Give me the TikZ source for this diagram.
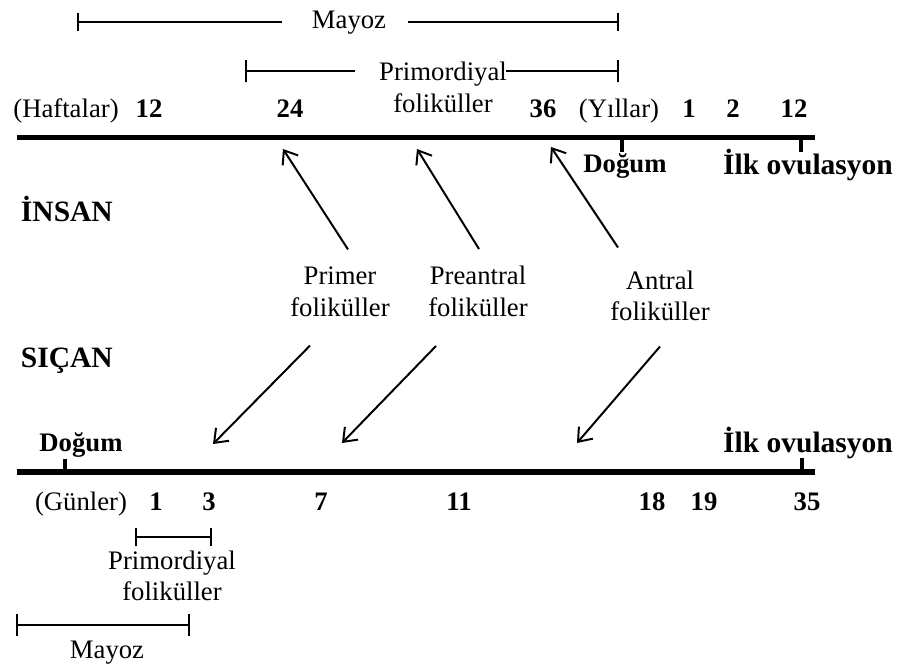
\documentclass[tikz,border=0pt]{standalone}
\usepackage{fontspec}
\setmainfont{Liberation Serif}
\usepackage{tikz}
\usetikzlibrary{arrows.meta}

\begin{document}
\begin{tikzpicture}[font=\fontsize{19}{22.5}\selectfont,
  axisline/.style={line width=3.6pt},
  tickmark/.style={line width=3pt},
  span/.style={line width=1.4pt},
  arr/.style={line width=1.4pt,-{Straight Barb[length=3mm,width=4.6mm]}},
  num/.style={font=\fontsize{19}{22}\selectfont\bfseries,anchor=base},
  lbl/.style={anchor=base},
  big/.style={font=\fontsize{21}{24}\selectfont\bfseries},
  twoline/.style={align=center,inner sep=0pt}]
 \useasboundingbox (0,0) rectangle (22.425,16.65);
 % ---- human (top) ----
 % meiosis / primordial ranges
 \coordinate (mzA) at (1.925,16.1);  \coordinate (mzB) at (7.05,16.1);
 \coordinate (mzC) at (10.2,16.1);   \coordinate (mzD) at (15.475,16.1);
 \node[lbl] (mzH) at (8.725,15.925) {Mayoz};
 \draw[span,{Bar[width=4.6mm]}-] (mzA) -- (mzB);
 \draw[span,-{Bar[width=4.6mm]}] (mzC) -- (mzD);
 \coordinate (prA) at (6.125,14.875); \coordinate (prB) at (8.875,14.875);
 \coordinate (prC) at (12.65,14.875); \coordinate (prD) at (15.475,14.875);
 \node[twoline,anchor=north] (prH) at (11.075,15.1) {Primordiyal\\foliküller};
 \draw[span,{Bar[width=5.6mm]}-] (prA) -- (prB);
 \draw[span,-{Bar[width=5.6mm]}] (prC) -- (prD);
 % axis
 \coordinate (hA) at (0.425,13.21); \coordinate (hB) at (20.375,13.21);
 \coordinate (hD) at (15.55,13.21); \coordinate (hO) at (20.025,13.21);
 \draw[axisline] (hA) -- (hB);
 \draw[tickmark] (hD) -- ++(0,-0.36);
 \draw[tickmark] (hO) -- ++(0,-0.36);
 \node[lbl] (hWeeks) at (1.65,13.7) {(Haftalar)};
 \node[num] (h12) at (3.725,13.7) {12};
 \node[num] (h24) at (7.25,13.7) {24};
 \node[num] (h36) at (13.575,13.7) {36};
 \node[lbl] (hYears) at (15.475,13.7) {(Yıllar)};
 \node[num] (hy1) at (17.225,13.7) {1};
 \node[num] (hy2) at (18.325,13.7) {2};
 \node[num] (hy12) at (19.85,13.7) {12};
 \node[num] (hBirth) at (15.625,12.33) {Doğum};
 \node[big,anchor=base] (hOvul) at (20.2,12.275) {İlk ovulasyon};
 \node[big,anchor=base west] (human) at (0.4,11.1) {İNSAN};
 % ---- follicle stages ----
 \node[twoline] (primer) at (8.5,9.3625) {Primer\\foliküller};
 \node[twoline] (preantral) at (11.95,9.3625) {Preantral\\foliküller};
 \node[twoline] (antral) at (16.5,9.25) {Antral\\foliküller};
 \coordinate (w24) at (7.075,12.925);
 \coordinate (w30) at (10.425,12.925);
 \coordinate (w36) at (13.775,12.975);
 \draw[arr] ([shift={(0.2,0.425)}]primer.north) -- (w24);
 \draw[arr] ([shift={(0.025,0.425)}]preantral.north) -- (w30);
 \draw[arr] ([shift={(-1.05,0.575)}]antral.north) -- (w36);
 \coordinate (d3) at (5.325,5.55);
 \coordinate (d7) at (8.55,5.575);
 \coordinate (d14) at (14.425,5.575);
 \draw[arr] ([shift={(-0.75,-0.725)}]primer.south) -- (d3);
 \draw[arr] ([shift={(-1.05,-0.725)}]preantral.south) -- (d7);
 \draw[arr] ([shift={(0,-0.625)}]antral.south) -- (d14);
 % ---- rat (bottom) ----
 \node[big,anchor=base west] (rat) at (0.4,7.45) {SIÇAN};
 \coordinate (rA) at (0.425,4.85); \coordinate (rB) at (20.375,4.85);
 \coordinate (rD) at (1.625,4.85); \coordinate (rO) at (20.05,4.85);
 \draw[axisline] (rA) -- (rB);
 \draw[tickmark] (rD) -- ++(0,0.33);
 \draw[tickmark] (rO) -- ++(0,0.35);
 \node[num] (rBirth) at (2.025,5.35) {Doğum};
 \node[big,anchor=base] (rOvul) at (20.2,5.325) {İlk ovulasyon};
 \node[lbl] (rDays) at (2.025,3.9) {(Günler)};
 \node[num] (r1) at (3.9,3.9) {1};
 \node[num] (r3) at (5.225,3.9) {3};
 \node[num] (r7) at (8.025,3.9) {7};
 \node[num] (r11) at (11.475,3.9) {11};
 \node[num] (r18) at (16.3,3.9) {18};
 \node[num] (r19) at (17.6,3.9) {19};
 \node[num] (r35) at (20.175,3.9) {35};
 % primordial / meiosis ranges
 \coordinate (pbA) at (3.375,3.225); \coordinate (pbB) at (5.3,3.225);
 \draw[span,{Bar[width=4.4mm]}-{Bar[width=4.4mm]}] (pbA) -- (pbB);
 \node[twoline] (prR) at (4.3,2.25) {Primordiyal\\foliküller};
 \coordinate (mbA) at (0.4,1.025); \coordinate (mbB) at (4.75,1.025);
 \draw[span,{Bar[width=5.4mm]}-{Bar[width=5.4mm]}] (mbA) -- (mbB);
 \node[lbl] (mzR) at (2.675,0.2) {Mayoz};
\end{tikzpicture}
\end{document}
